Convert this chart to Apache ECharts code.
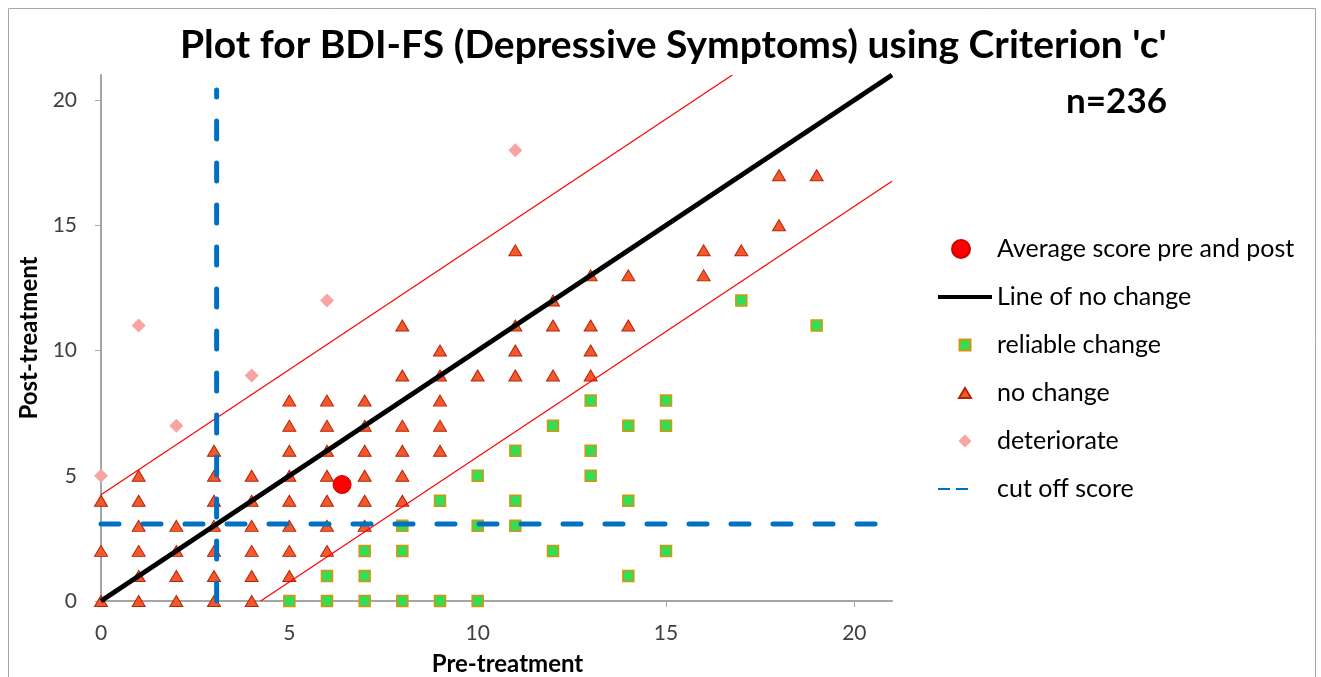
<!DOCTYPE html>
<html>
<head>
<meta charset="utf-8">
<script src="https://cdn.jsdelivr.net/npm/echarts@6/dist/echarts.min.js"></script>
<style>
  html, body { margin: 0; padding: 0; background: #fff; }
  #chart { width: 1321px; height: 677px; }
</style>
</head>
<body>
<div id="chart"></div>
<script>
// tick labels
var xTicks = [0, 5, 10, 15, 20];
var yTicks = [0, 5, 10, 15, 20];

// reliable change (pre, post)
var reliableChange = [
	[5,0],[6,0],[6,1],[7,0],[7,1],[7,2],[8,0],[8,2],[8,3],[9,0],[9,4],
	[10,0],[10,3],[10,5],[11,3],[11,4],[11,6],[12,2],[12,7],[13,5],[13,6],[13,8],
	[14,1],[14,4],[14,7],[15,2],[15,7],[15,8],[17,12],[19,11]
];

// no change (pre, post)
var noChange = [
	[0,0],[0,2],[0,4],
	[1,0],[1,1],[1,2],[1,3],[1,4],[1,5],
	[2,0],[2,1],[2,2],[2,3],
	[3,0],[3,1],[3,2],[3,3],[3,4],[3,5],[3,6],
	[4,0],[4,1],[4,2],[4,3],[4,4],[4,5],
	[5,1],[5,2],[5,3],[5,4],[5,5],[5,6],[5,7],[5,8],
	[6,2],[6,3],[6,4],[6,5],[6,6],[6,7],[6,8],
	[7,3],[7,4],[7,5],[7,6],[7,7],[7,8],
	[8,4],[8,5],[8,6],[8,7],[8,9],[8,11],
	[9,6],[9,7],[9,8],[9,9],[9,10],
	[10,9],
	[11,9],[11,10],[11,11],[11,14],
	[12,9],[12,11],[12,12],
	[13,9],[13,10],[13,11],[13,13],
	[14,11],[14,13],
	[16,13],[16,14],
	[17,14],
	[18,15],[18,17],
	[19,17]
];

// deteriorate (pre, post)
var deteriorate = [[0,5],[1,11],[2,7],[4,9],[6,12],[11,18]];

// average score pre and post
var average = [[6.4, 4.65]];

// reference lines
var noChangeLine = [[0,0],[21,21]];
var upperBand = [[0,4.24],[16.76,21]];
var lowerBand = [[4.24,0],[21,16.76]];
var cutoffH = [[0,3.07],[21,3.07]];
var cutoffV = [[3.07,0],[3.07,20.4]];

var font = 'Lato';

// legend icons drawn inside a 54 x 18 box (the M points only fix the box)
var box = 'M0,0M54,18';
var icons = {
	circle: 'path://' + box + 'M14,9A9,9,0,1,1,32,9A9,9,0,1,1,14,9Z',
	square: 'path://' + box + 'M21.5,3.5L32.5,3.5L32.5,14.5L21.5,14.5Z',
	triangle: 'path://' + box + 'M27,4L33,14L21,14Z',
	diamond: 'path://' + box + 'M27,2.5L33.5,9L27,15.5L20.5,9Z',
	line: 'path://' + box + 'M0,7L54,7L54,11L0,11Z',
	dash: 'path://' + box + 'M0,8L12,8L12,10L0,10Z M18,8L30,8L30,10L18,10Z'
};

var chart = echarts.init(document.getElementById('chart'));

var option = {
	animation: false,
	backgroundColor: '#fff',
	textStyle: { fontFamily: font },
	graphic: [{
		type: 'rect',
		shape: { x: 8.5, y: 8.5, width: 1307, height: 700 },
		style: { fill: 'none', stroke: '#a6a6a6', lineWidth: 1 },
		silent: true
	}],
	title: [{
		text: "Plot for BDI-FS (Depressive Symptoms) using Criterion 'c'",
		left: 175,
		top: 21,
		textStyle: { fontFamily: font, fontSize: 39, fontWeight: 'bold', color: '#000' }
	}, {
		text: 'n=236',
		right: 149,
		top: 79,
		textStyle: { fontFamily: font, fontSize: 35, fontWeight: 'bold', color: '#000' }
	}],
	grid: { left: 101, right: 429, top: 75, bottom: 76, outerBoundsMode: 'none' },
	legend: {
		orient: 'vertical',
		left: 937,
		top: 236,
		padding: 0,
		itemWidth: 54,
		itemHeight: 18,
		itemGap: 22,
		textStyle: { fontFamily: font, fontSize: 25, color: '#000', lineHeight: 26 },
		data: [
			{ name: 'Average score pre and post', icon: icons.circle },
			{ name: 'Line of no change', icon: icons.line },
			{ name: 'reliable change', icon: icons.square },
			{ name: 'no change', icon: icons.triangle },
			{ name: 'deteriorate', icon: icons.diamond },
			{ name: 'cut off score', icon: icons.dash }
		]
	},
	xAxis: {
		type: 'value',
		min: 0,
		max: 21,
		interval: 5,
		name: 'Pre-treatment',
		nameLocation: 'middle',
		nameGap: 51,
		nameTextStyle: { fontFamily: font, fontSize: 24, fontWeight: 'bold', color: '#000', padding: [0, 0, 0, 22] },
		splitLine: { show: false },
		axisLine: { lineStyle: { color: '#a6a6a6', width: 2 } },
		axisTick: { show: true, length: 6, lineStyle: { color: '#a6a6a6' }, customValues: xTicks },
		axisLabel: { fontFamily: font, fontSize: 21, color: '#404040', margin: 22, customValues: xTicks }
	},
	yAxis: {
		type: 'value',
		min: 0,
		max: 21,
		interval: 5,
		name: 'Post-treatment',
		nameLocation: 'middle',
		nameGap: 55,
		nameRotate: 90,
		nameTextStyle: { fontFamily: font, fontSize: 24, fontWeight: 'bold', color: '#000' },
		splitLine: { show: false },
		axisLine: { show: true, lineStyle: { color: '#a6a6a6', width: 2 } },
		axisTick: { show: true, length: 6, lineStyle: { color: '#a6a6a6' }, customValues: yTicks },
		axisLabel: { fontFamily: font, fontSize: 21, color: '#404040', margin: 24, customValues: yTicks }
	},
	series: [{
		name: 'reliable change',
		type: 'scatter',
		symbol: 'rect',
		symbolSize: 11,
		itemStyle: { color: '#33dd55', borderColor: '#d4960f', borderWidth: 1.5, opacity: 1 },
		data: reliableChange
	}, {
		name: 'no change',
		type: 'scatter',
		symbol: 'triangle',
		symbolSize: [13, 11],
		itemStyle: { color: '#f5582b', borderColor: '#b3260a', borderWidth: 1, opacity: 1 },
		data: noChange
	}, {
		name: 'deteriorate',
		type: 'scatter',
		symbol: 'diamond',
		symbolSize: 14,
		itemStyle: { color: '#f9a3a3', opacity: 1 },
		data: deteriorate
	}, {
		name: 'Average score pre and post',
		type: 'scatter',
		symbol: 'circle',
		symbolSize: 18,
		itemStyle: { color: '#ff0000', borderColor: '#d00000', borderWidth: 1, opacity: 1 },
		data: average
	}, {
		name: 'upper',
		type: 'line',
		symbol: 'none',
		lineStyle: { color: '#ff0000', width: 1.2 },
		data: upperBand
	}, {
		name: 'lower',
		type: 'line',
		symbol: 'none',
		lineStyle: { color: '#ff0000', width: 1.2 },
		data: lowerBand
	}, {
		name: 'Line of no change',
		type: 'line',
		symbol: 'none',
		itemStyle: { color: '#000' },
		lineStyle: { color: '#000', width: 5 },
		data: noChangeLine
	}, {
		name: 'cut off score',
		type: 'line',
		symbol: 'none',
		itemStyle: { color: '#0070c0' },
		lineStyle: { color: '#0070c0', width: 5, type: [18, 24], cap: 'round' },
		data: cutoffH
	}, {
		name: 'cut off score',
		type: 'line',
		symbol: 'none',
		itemStyle: { color: '#0070c0' },
		lineStyle: { color: '#0070c0', width: 5, type: [18, 24], cap: 'round' },
		data: cutoffV
	}]
};

chart.setOption(option);
</script>
</body>
</html>
